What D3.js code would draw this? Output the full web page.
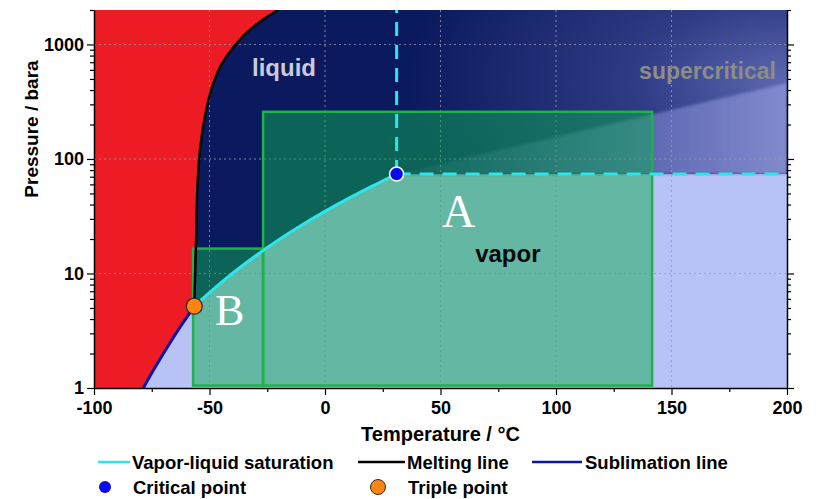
<!DOCTYPE html>
<html>
<head>
<meta charset="utf-8">
<script src="https://cdn.jsdelivr.net/npm/d3@7"></script>
<style>
  html, body { margin: 0; padding: 0; background: #fff; }
  svg { display: block; font-family: Arial, "Liberation Sans", sans-serif; }
</style>
</head>
<body>
<svg id="chart" width="816" height="499"></svg>
<script>
// CO2 phase diagram: temperature (°C) vs pressure (bara, log scale)

const tempTicks = [-100, -50, 0, 50, 100, 150, 200];
const tempMinorTicks = [-75, -25, 25, 75, 125, 175];
const pressTicks = [1, 10, 100, 1000];
const pressMinorTicks = [2, 3, 4, 5, 6, 7, 8, 9, 20, 30, 40, 50, 60, 70, 80, 90,
                         200, 300, 400, 500, 600, 700, 800, 900, 2000];

// [temperature °C, pressure bara]
const saturation = [[-56.6, 5.18], [-50, 6.82], [-40, 10.05], [-30, 14.28], [-20, 19.7],
                    [-10, 26.49], [0, 34.85], [10, 45.02], [20, 57.29], [25, 64.3], [31, 73.8]];
const melting = [[-56.6, 5.18], [-55.8, 19.9], [-55.2, 58], [-54.1, 122], [-51.9, 238],
                 [-48.7, 437], [-44.6, 681], [-39.4, 960], [-33.3, 1300], [-26.0, 1690], [-19.1, 2070]];
const sublimation = [[-79, 0.97], [-75, 1.35], [-70, 1.99], [-65, 2.89], [-60, 4.1], [-56.6, 5.18]];

const criticalPoint = [31, 73.8];
const triplePoint = [-56.6, 5.18];

// operating windows
const boxNames = ["A", "B"];
const boxTemps = [[-26.8, 141.6], [-57.1, -26.8]];
const boxPress = [[1.05, 258], [1.05, 16.5]];

const legendLines = ["Vapor-liquid saturation", "Melting line", "Sublimation line"];
const legendPoints = ["Critical point", "Triple point"];

const W = 816, H = 499;
const m = { left: 94, right: 29, top: 10, bottom: 111 };

const svg = d3.select("#chart");
const x = d3.scaleLinear().domain([-100, 200]).range([m.left, W - m.right]);
const y = d3.scaleLog().domain([1, 2000]).range([H - m.bottom, m.top]);
const x0 = x.range()[0], x1 = x.range()[1], yb = y.range()[0], yt = y.range()[1];

const C = {
  red: "#ED1C24", navy: "#0B1A5E", lav: "#B9C2F5",
  cyan: "#2BE6EA", sub: "#0A16A6", green: "#1DB24C",
  boxFill: "rgba(14,172,82,0.5)"
};

const defs = svg.append("defs");
defs.append("clipPath").attr("id", "plotClip")
  .append("rect").attr("x", x0).attr("y", yt).attr("width", x1 - x0).attr("height", yb - yt);

// glow toward the high-temperature side of the supercritical region
const gcx = x(200), gcy = y(470);
const rg = defs.append("radialGradient").attr("id", "scGlow")
  .attr("gradientUnits", "userSpaceOnUse")
  .attr("cx", gcx).attr("cy", gcy).attr("r", 380)
  .attr("gradientTransform", `translate(${gcx},${gcy}) scale(1,0.55) translate(${-gcx},${-gcy})`);
rg.append("stop").attr("offset", 0).attr("stop-color", "#5C68B0");
rg.append("stop").attr("offset", 0.4).attr("stop-color", "#2F3B84");
rg.append("stop").attr("offset", 1).attr("stop-color", C.navy);

const lg = defs.append("linearGradient").attr("id", "scWedge")
  .attr("gradientUnits", "userSpaceOnUse")
  .attr("x1", x(31)).attr("y1", 0).attr("x2", x(200)).attr("y2", 0);
lg.append("stop").attr("offset", 0).attr("stop-color", "#102066");
lg.append("stop").attr("offset", 0.5).attr("stop-color", "#505CA8");
lg.append("stop").attr("offset", 1).attr("stop-color", "#828ACD");

defs.append("filter").attr("id", "soft").append("feGaussianBlur").attr("stdDeviation", 1.8);

const curve = d3.line().x(d => x(d[0])).y(d => y(d[1])).curve(d3.curveMonotoneY);
const satCurve = d3.line().x(d => x(d[0])).y(d => y(d[1])).curve(d3.curveMonotoneX);
const poly = d3.line().x(d => x(d[0])).y(d => y(d[1]));

const plot = svg.append("g").attr("clip-path", "url(#plotClip)");

// vapor background
plot.append("rect").attr("x", x0).attr("y", yt).attr("width", x1 - x0).attr("height", yb - yt)
  .attr("fill", C.lav);

// solid region: bounded by the sublimation and melting lines
plot.append("path")
  .attr("d", curve([...sublimation, ...melting.slice(1)]) + `L${x(-100)},${yt}L${x(-100)},${yb + 5}Z`)
  .attr("fill", C.red);

// liquid + supercritical region
plot.append("path")
  .attr("d", curve(melting) + `L${x1},${yt}L${x(200)},${y(criticalPoint[1])}` +
             satCurve(saturation.slice().reverse()).replace(/^M/, "L") + "Z")
  .attr("fill", C.navy);

// supercritical shading
plot.append("path")
  .attr("d", poly([criticalPoint, [31, 2100], [200, 2100], [200, criticalPoint[1]]]))
  .attr("fill", "url(#scGlow)");
plot.append("path")
  .attr("d", poly([criticalPoint, [200, criticalPoint[1]], [200, 460]]))
  .attr("fill", "url(#scWedge)").attr("filter", "url(#soft)");

// dotted grid
const grid = plot.append("g").attr("stroke", "#9a9aa6").attr("stroke-width", 1)
  .attr("stroke-dasharray", "2,3").attr("opacity", 0.8);
grid.selectAll("line.gx").data(tempTicks.slice(1, -1)).join("line")
  .attr("x1", d => x(d)).attr("x2", d => x(d)).attr("y1", yt).attr("y2", yb);
grid.selectAll("line.gy").data(pressTicks.slice(1)).join("line")
  .attr("x1", x0).attr("x2", x1).attr("y1", d => y(d)).attr("y2", d => y(d));

// operating windows
plot.selectAll("rect.box").data(boxNames).join("rect")
  .attr("x", (d, i) => x(boxTemps[i][0]))
  .attr("y", (d, i) => y(boxPress[i][1]))
  .attr("width", (d, i) => x(boxTemps[i][1]) - x(boxTemps[i][0]))
  .attr("height", (d, i) => y(boxPress[i][0]) - y(boxPress[i][1]))
  .attr("fill", C.boxFill).attr("stroke", C.green).attr("stroke-width", 2.5);

// phase boundaries
plot.append("path").attr("d", curve(sublimation)).attr("fill", "none")
  .attr("stroke", C.sub).attr("stroke-width", 3);
plot.append("path").attr("d", curve(melting)).attr("fill", "none")
  .attr("stroke", "#000").attr("stroke-width", 2.5);
plot.append("path").attr("d", satCurve(saturation)).attr("fill", "none")
  .attr("stroke", C.cyan).attr("stroke-width", 3);

// critical isotherm and isobar
plot.append("line").attr("x1", x(criticalPoint[0])).attr("x2", x(criticalPoint[0]))
  .attr("y1", y(criticalPoint[1])).attr("y2", yt)
  .attr("stroke", C.cyan).attr("stroke-width", 3).attr("stroke-dasharray", "14,9");
plot.append("line").attr("x1", x(criticalPoint[0])).attr("x2", x1)
  .attr("y1", y(criticalPoint[1])).attr("y2", y(criticalPoint[1]))
  .attr("stroke", C.cyan).attr("stroke-width", 3).attr("stroke-dasharray", "14,9");

// region labels
const labels = svg.append("g").attr("font-weight", "bold");
labels.append("text").attr("x", x(-31.6)).attr("y", y(535)).attr("font-size", 24)
  .attr("fill", "#C9CBD9").text("liquid");
labels.append("text").attr("x", x(195.2)).attr("y", y(495)).attr("font-size", 23)
  .attr("text-anchor", "end").attr("fill", "#8C8C88").text("supercritical");
labels.append("text").attr("x", x(65)).attr("y", y(12.5)).attr("font-size", 24)
  .attr("fill", "#0a0a0a").text("vapor");
svg.append("text").attr("x", x(50.6)).attr("y", y(25.3)).attr("font-size", 46)
  .attr("font-family", "'Liberation Serif', 'Times New Roman', serif").attr("fill", "#fff").text(boxNames[0]);
svg.append("text").attr("x", x(-47.6)).attr("y", y(3.57)).attr("font-size", 44)
  .attr("font-family", "'Liberation Serif', 'Times New Roman', serif").attr("fill", "#fff").text(boxNames[1]);

// special points
svg.append("circle").attr("cx", x(criticalPoint[0])).attr("cy", y(criticalPoint[1])).attr("r", 7)
  .attr("fill", "#0A0AEE").attr("stroke", "#fff").attr("stroke-width", 1.5);
svg.append("circle").attr("cx", x(triplePoint[0])).attr("cy", y(triplePoint[1])).attr("r", 8)
  .attr("fill", "#FF8410").attr("stroke", "#2a2a2a").attr("stroke-width", 1.2);

// axes
const fmt = d => String(d);
svg.append("g").attr("transform", `translate(${x0},0)`)
  .call(d3.axisLeft(y).tickValues(pressTicks).tickFormat(fmt).tickSize(7).tickPadding(3).tickSizeOuter(0));
svg.append("g").attr("transform", `translate(${x0},0)`)
  .call(d3.axisLeft(y).tickValues(pressMinorTicks).tickFormat("").tickSize(4))
  .call(g => g.select(".domain").remove());
svg.append("g").attr("transform", `translate(${x1},0)`)
  .call(d3.axisLeft(y).tickValues(pressTicks).tickFormat("").tickSize(-7).tickSizeOuter(0));
svg.append("g").attr("transform", `translate(${x1},0)`)
  .call(d3.axisLeft(y).tickValues(pressMinorTicks).tickFormat("").tickSize(-4))
  .call(g => g.select(".domain").remove());
svg.append("g").attr("transform", `translate(0,${yb})`)
  .call(d3.axisBottom(x).tickValues(tempTicks).tickFormat(fmt).tickSize(7).tickPadding(6).tickSizeOuter(0));
svg.append("g").attr("transform", `translate(0,${yb})`)
  .call(d3.axisBottom(x).tickValues(tempMinorTicks).tickFormat("").tickSize(4))
  .call(g => g.select(".domain").remove());

svg.selectAll(".domain").attr("stroke", "#000").attr("stroke-width", 1.5);
svg.selectAll(".tick line").attr("stroke", "#000").attr("stroke-width", 1.2);
svg.selectAll(".tick text").attr("font-size", 18).attr("font-weight", "bold")
  .attr("font-family", "Arial, 'Liberation Sans', sans-serif").attr("fill", "#000");

// axis titles
svg.append("text").attr("x", (x0 + x1) / 2).attr("y", 441).attr("text-anchor", "middle")
  .attr("font-size", 20).attr("font-weight", "bold").text("Temperature / °C");
svg.append("text").attr("transform", "translate(38,129) rotate(-90)").attr("text-anchor", "middle")
  .attr("font-size", 19).attr("font-weight", "bold").text("Pressure / bara");

// legend
const leg = svg.append("g").attr("font-size", 18.5).attr("font-weight", "bold");
const lineItems = [
  { x0: 98, x1: 130, color: C.cyan, tx: 132 },
  { x0: 358, x1: 405, color: "#000", tx: 407 },
  { x0: 532, x1: 582, color: C.sub, tx: 585 }
];
lineItems.forEach((it, i) => {
  leg.append("line").attr("x1", it.x0).attr("x2", it.x1).attr("y1", 462).attr("y2", 462)
    .attr("stroke", it.color).attr("stroke-width", 2.5);
  leg.append("text").attr("x", it.tx).attr("y", 468.5).text(legendLines[i]);
});
leg.append("circle").attr("cx", 105).attr("cy", 487).attr("r", 6).attr("fill", "#0A0AEE");
leg.append("text").attr("x", 133).attr("y", 493.5).text(legendPoints[0]);
leg.append("circle").attr("cx", 378).attr("cy", 487).attr("r", 7.5)
  .attr("fill", "#FF8410").attr("stroke", "#2a2a2a").attr("stroke-width", 1);
leg.append("text").attr("x", 408).attr("y", 493.5).text(legendPoints[1]);
</script>
</body>
</html>
